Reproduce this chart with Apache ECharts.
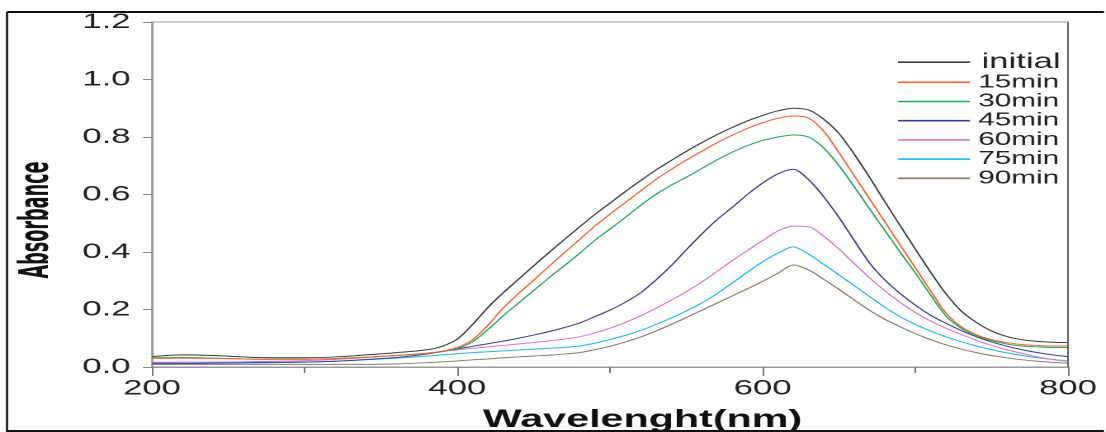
<!DOCTYPE html>
<html>
<head>
<meta charset="utf-8">
<script src="https://cdn.jsdelivr.net/npm/echarts@6/dist/echarts.min.js"></script>
<style>
html,body{margin:0;padding:0;background:#fff;overflow:hidden;width:1106px;height:432px;}
#wrap{width:1106px;height:432px;overflow:hidden;position:relative;}
#chart{width:670px;height:432px;transform:scaleX(1.6507);transform-origin:0 0;position:absolute;left:0;top:0;}
</style>
</head>
<body>
<div id="wrap"><div id="chart"></div></div>
<script>
// Wavelengths (nm)
const wavelengths = [200,220,240,260,280,300,320,340,360,380,390,400,410,420,430,440,450,460,470,480,490,500,510,520,530,540,550,560,570,580,590,600,610,620,630,640,650,660,670,680,690,700,710,720,730,740,750,760,770,780,790,800];
const seriesNames = ['initial','15min','30min','45min','60min','75min','90min'];
const initial = [.036,.042,.040,.035,.032,.032,.035,.042,.050, .060,.072,.097,.148,.207,.258,.305,.352,.398,.443,.487,.530,.570,.610,.648,.685,.718,.750,.780,.808,.833,.856,.875,.891,.900,.894,.862,.812,.740,.660,.575,.492,.410,.330,.255,.195,.155,.125,.106,.095,.089,.086,.085];
const min15 = [.030,.031,.030,.028,.027,.027,.029,.034,.040, .048,.055,.068,.095,.145,.205,.255,.302,.350,.397,.443,.490,.532,.572,.612,.652,.687,.720,.750,.780,.806,.830,.850,.865,.873,.866,.820,.745,.665,.585,.505,.425,.345,.265,.188,.140,.112,.095,.085,.078,.075,.073,.073];
const min30 = [.032,.033,.031,.028,.027,.027,.029,.034,.040, .047,.054,.064,.088,.130,.178,.222,.266,.310,.352,.395,.440,.480,.520,.562,.600,.632,.660,.690,.720,.747,.770,.788,.800,.807,.800,.762,.700,.627,.550,.475,.400,.327,.250,.178,.135,.108,.092,.080,.073,.070,.068,.068];
const min45 = [.013,.013,.014,.015,.016,.017,.020,.026,.033, .045,.054,.063,.072,.081,.090,.100,.111,.123,.137,.153,.175,.198,.225,.258,.302,.352,.408,.462,.512,.555,.600,.640,.672,.688,.652,.592,.520,.440,.362,.303,.256,.215,.180,.152,.127,.105,.087,.072,.060,.050,.042,.036];
const min60 = [.016,.017,.017,.018,.020,.022,.026,.033,.040, .048,.054,.060,.065,.070,.075,.080,.085,.091,.097,.105,.118,.135,.155,.178,.204,.232,.262,.295,.332,.370,.405,.440,.473,.490,.488,.455,.410,.360,.310,.265,.225,.190,.160,.135,.113,.093,.075,.060,.047,.035,.026,.019];
const min75 = [.012,.012,.013,.014,.015,.017,.020,.025,.031, .038,.042,.046,.050,.053,.056,.059,.062,.065,.068,.073,.083,.096,.110,.127,.148,.170,.195,.222,.255,.292,.330,.366,.396,.418,.393,.357,.320,.283,.245,.208,.175,.148,.125,.105,.088,.073,.060,.049,.040,.032,.026,.021];
const min90 = [.009,.009,.009,.009,.009,.009,.009,.009,.011, .015,.018,.021,.025,.028,.032,.035,.038,.041,.045,.050,.060,.072,.087,.104,.125,.148,.172,.197,.222,.247,.272,.298,.326,.355,.338,.305,.270,.233,.197,.166,.140,.116,.095,.077,.062,.050,.040,.032,.025,.020,.016,.013];
const xTicks = [200,400,600,800];
const yTicks = [0,0.2,0.4,0.6,0.8,1.0,1.2];

const allValues = [initial,min15,min30,min45,min60,min75,min90];
const colors = ['#3a3a3a','#f4602e','#22a85a','#3b3f98','#d977c6','#22b6ee','#8a7a6c'];

const S = 1.6507; // horizontal stretch of the reference
const chart = echarts.init(document.getElementById('chart'), null, {renderer:'canvas', devicePixelRatio:2});

const series = seriesNames.map((name,i)=>({
  name: name,
  type: 'line',
  data: wavelengths.map((w,j)=>[w, allValues[i][j]]),
  showSymbol: false,
  smooth: 0.3,
  lineStyle: {width: 1, color: colors[i]},
  itemStyle: {color: colors[i]},
  z: 10 - i
}));

const option = {
  animation: false,
  backgroundColor: '#ffffff',
  textStyle: {fontFamily: "'Liberation Sans', Arial, sans-serif"},
  grid: {left: 152/S, right: 670 - 1068/S, top: 22, bottom: 65, show: true, borderColor: '#9a9a9a', borderWidth: 1},
  xAxis: {
    type: 'value', min: xTicks[0], max: xTicks[xTicks.length-1], interval: 200,
    axisLine: {show: true, lineStyle: {color: '#9a9a9a', width: 1}},
    axisTick: {show: true, length: 9, lineStyle: {color: '#777'}},
    minorTick: {show: true, splitNumber: 2, length: 6, lineStyle: {color: '#777'}},
    splitLine: {show: false},
    axisLabel: {fontSize: 21, color: '#222', margin: 11, fontFamily: "'Liberation Sans', Arial, sans-serif"}
  },
  yAxis: {
    type: 'value', min: yTicks[0], max: yTicks[yTicks.length-1], interval: 0.2,
    axisLine: {show: true, lineStyle: {color: '#9a9a9a', width: 1}},
    axisTick: {show: true, length: 5.5, lineStyle: {color: '#888'}},
    splitLine: {show: false},
    axisLabel: {fontSize: 21, color: '#222', margin: 13, formatter: v => v.toFixed(1), fontFamily: "'Liberation Sans', Arial, sans-serif"}
  },
  legend: {
    orient: 'vertical', left: 898/S, top: 51.7, padding: 0,
    itemWidth: 72/S, itemHeight: 1.6, itemGap: 0, icon: 'rect',
    data: seriesNames,
    textStyle: {fontSize: 18, color: '#222', lineHeight: 19.2,
      rich: {a: {fontSize: 21, lineHeight: 20, color: '#222', padding: [0,0,0,2]}}},
    formatter: n => n === 'initial' ? '{a|' + n + '}' : n
  },
  graphic: [
    {type: 'line', shape: {x1: 7/S, y1: 12, x2: 1104/S, y2: 12}, style: {stroke: '#111', lineWidth: 2}, z: 100},
    {type: 'line', shape: {x1: 7/S, y1: 12, x2: 7/S, y2: 432}, style: {stroke: '#111', lineWidth: 1.3}, z: 100},
    {type: 'line', shape: {x1: 7/S, y1: 431, x2: 1104/S, y2: 431}, style: {stroke: '#111', lineWidth: 2}, z: 100},
    {type: 'line', shape: {x1: 1068/S, y1: 22, x2: 1068/S, y2: 367}, style: {stroke: '#555', lineWidth: 0.8}, z: 50},
    {type: 'text', x: 37.5/S, y: 220, rotation: Math.PI/2, scaleX: 0.8,
      style: {text: 'Absorbance', x: 0, y: 0, fontSize: 24.5, fontWeight: 'bold', fontFamily: "'Liberation Sans Narrow', 'Arial Narrow', 'DejaVu Sans Condensed', sans-serif",
        fill: '#111', align: 'center', verticalAlign: 'middle', textAlign: 'center', textVerticalAlign: 'middle'}},
    {type: 'text', x: 642.5/S, y: 420,
      style: {text: 'Wavelenght(nm)', x: 0, y: 0, fontSize: 25, fontWeight: 'bold', fontFamily: "'Liberation Sans', Arial, sans-serif",
        fill: '#111', align: 'center', verticalAlign: 'middle', textAlign: 'center', textVerticalAlign: 'middle'}}
  ],
  series: series
};
chart.setOption(option);
</script>
</body>
</html>
